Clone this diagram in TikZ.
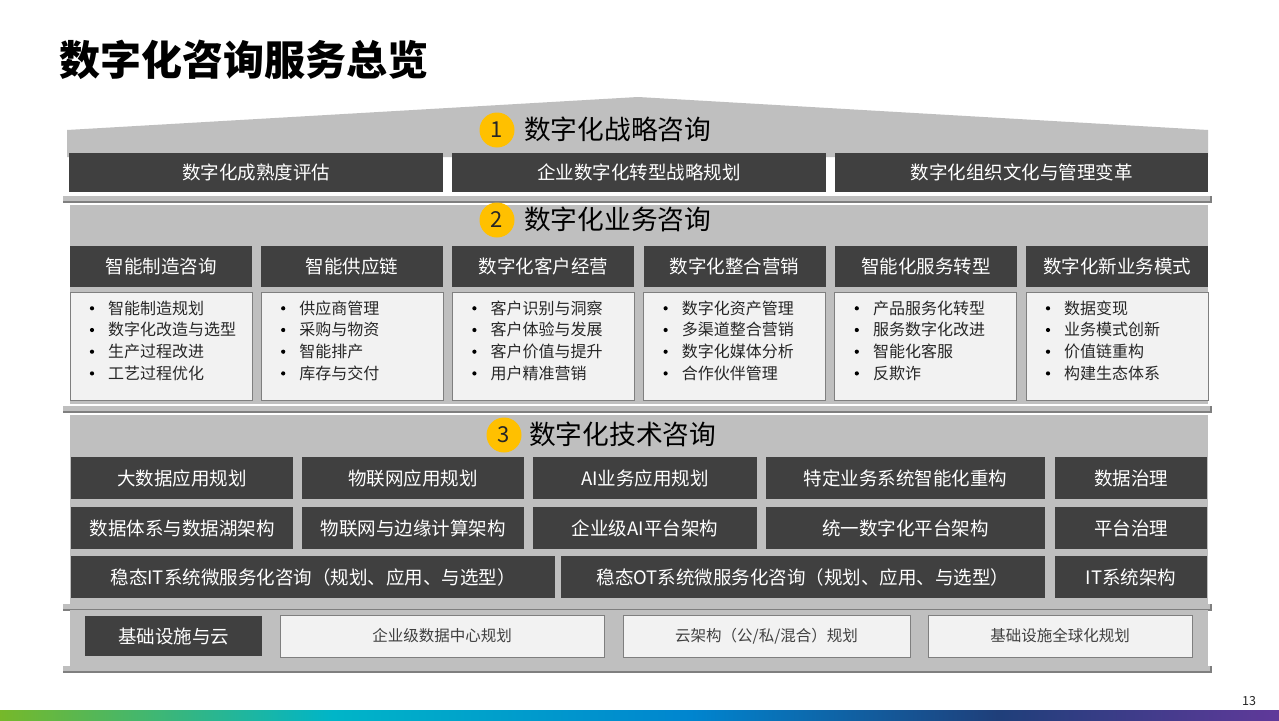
\documentclass[tikz,border=0pt]{standalone}
\usepackage{fontspec}
\setmainfont{Noto Sans CJK SC}
\definecolor{cdark}{HTML}{404040}
\definecolor{cgray}{HTML}{BFBFBF}
\definecolor{cedge}{HTML}{7F7F7F}
\definecolor{clight}{HTML}{F2F2F2}
\definecolor{cyellow}{HTML}{FFC000}
\definecolor{ctext}{HTML}{262626}
\definecolor{cgreen}{HTML}{76B82A}
\definecolor{ccyan}{HTML}{00B5C8}
\definecolor{cblue}{HTML}{0085CF}
\definecolor{cnavy}{HTML}{1F3F7A}
\definecolor{cpurple}{HTML}{60399A}
\pgfdeclarehorizontalshading{brandbar}{100bp}{color(0bp)=(cgreen); color(25bp)=(cgreen); color(38bp)=(ccyan); color(52bp)=(cblue); color(64bp)=(cnavy); color(75bp)=(cpurple); color(100bp)=(cpurple)}
\newcommand\bx[7]{\node[#1, minimum width={#4-#2}, minimum height={#5-#3}] (#6) at ({(#2+#4)/2},{(#3+#5)/2}) {#7};}
\newcommand\slab[4]{\fill[cgray] (#1,#2) rectangle (#3,#4); \draw[cedge, line width=1.4pt] (#1,#4) -- (#3,#4) -- (#3,#2);}
\newcommand\bcol[3]{\foreach \t [count=\i] in {#3} {\fill[black] ({#2+22},{286.6+21.7*\i}) circle (2.1); \node[bul, anchor=west] (#1-\i) at ({#2+38},{286.3+21.7*\i}) {\t};}}
\tikzset{
  darkbox/.style={fill=cdark, text=white, font=\fontsize{18.5}{20}\selectfont, inner sep=0pt, outer sep=0pt},
  lightbox/.style={fill=clight, draw=cedge, line width=1pt, text=cdark, font=\fontsize{15.5}{18}\selectfont, inner sep=0pt, outer sep=0pt},
  bul/.style={text=ctext, font=\fontsize{16}{18}\selectfont, inner sep=0pt},
  numcirc/.style={circle, fill=cyellow, minimum size=35pt, inner sep=0pt, text=ctext, font=\fontsize{22}{24}\selectfont},
  sechead/.style={anchor=west, inner sep=0pt, text=black, font=\fontsize{26.7}{28}\selectfont},
}
\begin{document}
\begin{tikzpicture}[x=1pt,y=-1pt]
\useasboundingbox (0,0) rectangle (1279,720);
\fill[white] (0,0) rectangle (1279,720);
% title
\node[anchor=west, inner sep=0pt, font=\fontsize{41}{44}\selectfont\bfseries] (title) at (59,60) {数字化咨询服务总览};
% ---------- section 1 (roof) ----------
\fill[cgray] (67,157) -- (67,130) -- (638,97) -- (1208,130) -- (1208,157) -- cycle;
\node[numcirc] (c1) at (497,130) {1};
\node[sechead] (h1) at (524,129) {数字化战略咨询};
\bx{darkbox}{69}{153}{443}{192}{s1a}{数字化成熟度评估}
\bx{darkbox}{452}{153}{826}{192}{s1b}{企业数字化转型战略规划}
\bx{darkbox}{835}{153}{1208}{192}{s1c}{数字化组织文化与管理变革}
\slab{63}{196}{1211}{202}
% ---------- section 2 ----------
\fill[cgray] (70,205) rectangle (1208,404);
\node[numcirc] (c2) at (497,220) {2};
\node[sechead] (h2) at (524,219) {数字化业务咨询};
\foreach \nm/\lx/\tx in {a/70/智能制造咨询, b/261.2/智能供应链, c/452.4/数字化客户经营, d/643.6/数字化整合营销, e/834.8/智能化服务转型, f/1026/数字化新业务模式}{
  \bx{darkbox}{\lx}{246}{\lx+182}{287}{s2\nm}{\tx}
  \bx{lightbox}{\lx}{292}{\lx+182}{400}{s2\nm-list}{}
}
\bcol{b1}{70}{智能制造规划,数字化改造与选型,生产过程改进,工艺过程优化}
\bcol{b2}{261.2}{供应商管理,采购与物资,智能排产,库存与交付}
\bcol{b3}{452.4}{客户识别与洞察,客户体验与发展,客户价值与提升,用户精准营销}
\bcol{b4}{643.6}{数字化资产管理,多渠道整合营销,数字化媒体分析,合作伙伴管理}
\bcol{b5}{834.8}{产品服务化转型,服务数字化改进,智能化客服,反欺诈}
\bcol{b6}{1026}{数据变现,业务模式创新,价值链重构,构建生态体系}
\slab{63}{406}{1211}{412}
% ---------- section 3 ----------
\fill[cgray] (70,415) rectangle (1208,604);
\node[numcirc] (c3) at (504,435) {3};
\node[sechead] (h3) at (529,434) {数字化技术咨询};
\bx{darkbox}{71}{457}{293}{499}{t1a}{大数据应用规划}
\bx{darkbox}{302}{457}{524}{499}{t1b}{物联网应用规划}
\bx{darkbox}{533}{457}{757}{499}{t1c}{AI业务应用规划}
\bx{darkbox}{766}{457}{1045}{499}{t1d}{特定业务系统智能化重构}
\bx{darkbox}{1055}{457}{1207}{499}{t1e}{数据治理}
\bx{darkbox}{71}{507}{293}{549}{t2a}{数据体系与数据湖架构}
\bx{darkbox}{302}{507}{524}{549}{t2b}{物联网与边缘计算架构}
\bx{darkbox}{533}{507}{757}{549}{t2c}{企业级AI平台架构}
\bx{darkbox}{766}{507}{1045}{549}{t2d}{统一数字化平台架构}
\bx{darkbox}{1055}{507}{1207}{549}{t2e}{平台治理}
\bx{darkbox}{71}{556}{555}{598}{t3a}{稳态IT系统微服务化咨询（规划、应用、与选型）}
\bx{darkbox}{561}{556}{1045}{598}{t3b}{稳态OT系统微服务化咨询（规划、应用、与选型）}
\bx{darkbox}{1055}{556}{1207}{598}{t3c}{IT系统架构}
\slab{63}{604}{1211}{610}
% ---------- section 4 ----------
\fill[cgray] (70,610) rectangle (1208,666);
\slab{63}{666}{1211}{672}
\bx{darkbox}{85}{616}{262}{656}{f1}{基础设施与云}
\bx{lightbox}{280}{615}{604}{657}{f2}{企业级数据中心规划}
\bx{lightbox}{623}{615}{910}{657}{f3}{云架构（公/私/混合）规划}
\bx{lightbox}{928}{615}{1192}{657}{f4}{基础设施全球化规划}
% footer
\node[anchor=center, inner sep=0pt, text=ctext, font=\fontsize{12.5}{14}\selectfont] (pg) at (1249,701) {13};
\shade[shading=brandbar] (0,710) rectangle (1279,720);
\end{tikzpicture}
\end{document}
